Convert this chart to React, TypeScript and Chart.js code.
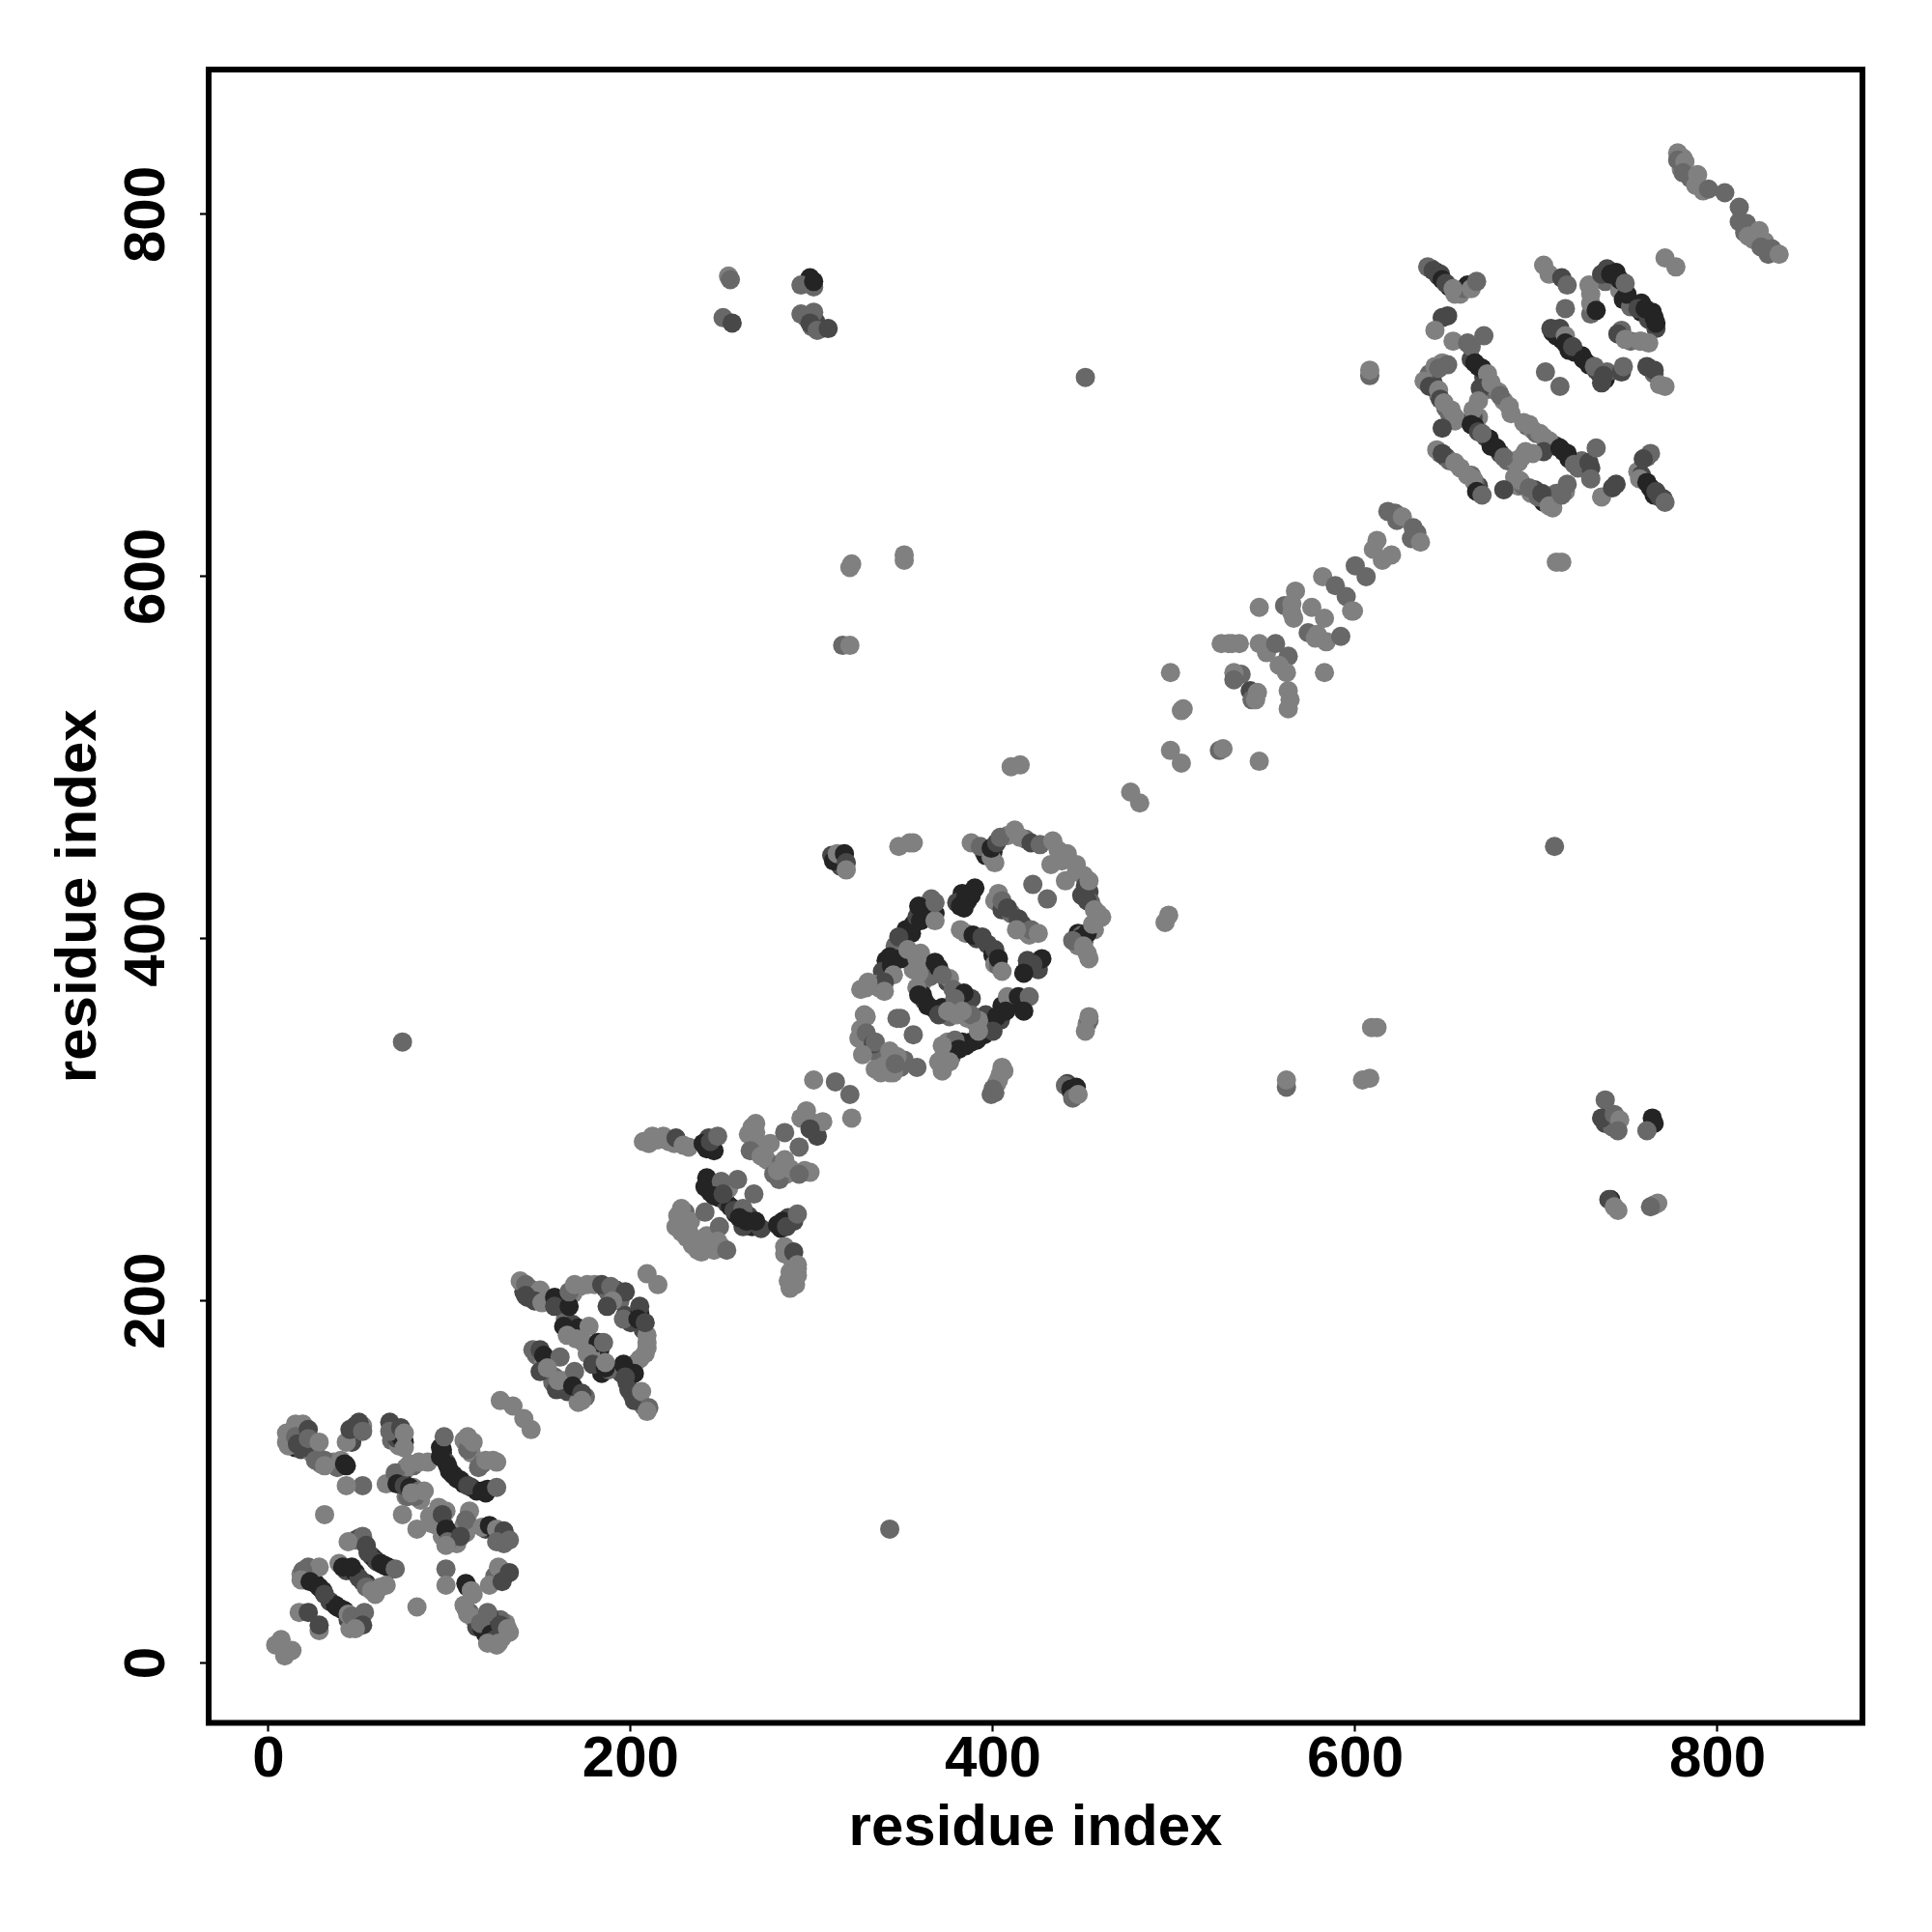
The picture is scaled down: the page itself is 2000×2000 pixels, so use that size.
import React, { useEffect, useRef } from "react";
import { Chart, registerables } from "chart.js";

Chart.register(...registerables);

type Contact = [number, number, number];

const xTickValues = [0, 200, 400, 600, 800];
const yTickValues = [0, 200, 400, 600, 800];
const axisLimits = [-33, 880];
const axisTitle = "residue index";
const scoreColors = ["#808080", "#808080", "#686868", "#484848", "#242424"];

const denseA: Contact[] = [
  [48,68,2],[50,69,3],[57,59,3],[59,57,4],[60,56,3],[64,54,4],[68,52,4],[43,51,3],[48,50,4],[50,47,3],[54,44,4],[56,42,3],[59,38,1],[62,42,1],
  [22,47,3],[26,44,4],[30,40,4],[34,34,3],[37,32,4],[40,30,3],[44,24,3],[47,21,2],[50,23,2],[45,19,1],[20,46,1],[18,49,1],[22,53,2],[24,52,2],[50,25,1],
  [11,125,2],[13,122,3],[15,119,4],[18,118,3],[20,125,3],[24,116,1],[27,114,2],[29,110,1],[36,111,1],[38,108,2],[43,109,4],[46,122,3],[47,126,3],[52,131,1],[48,131,3],
  [68,123,2],[70,130,1],[72,120,1],[71,124,3],[73,125,4],[68,100,3],[73,102,1],[75,106,1],[74,100,4],[76,92,1],[77,92,2],[80,97,1],[84,90,1],[80,109,2],[76,108,1],
  [96,118,4],[96,116,4],[98,111,3],[100,106,4],[102,104,4],[104,102,4],[108,99,4],[112,97,3],[115,95,4],[120,94,4],[112,116,1],[108,123,1],[116,108,2],[124,112,1],
  [108,76,2],[107,74,1],[109,72,1],[110,78,1],[98,84,1],[95,78,4],[97,76,3],[99,72,4],[100,68,1],[96,70,1],[90,77,1],[92,80,1],[103,68,3],[104,66,1],[120,74,3],[124,74,4],[128,69,3],[131,70,3],[130,66,2],
  [109,30,1],[111,28,2],[113,25,1],[115,20,3],[118,19,4],[120,16,4],[123,12,1],[125,18,4],[126,10,1],[129,14,1],[127,16,4],[130,20,2],[131,22,1],[128,24,2],[122,26,3],[110,42,4],[113,38,1],[125,48,2],[130,48,3],[127,53,1],
];

const denseB: Contact[] = [
  [141,205,3],[143,202,3],[145,204,4],[148,203,3],[153,201,1],[160,199,3],[162,197,4],[163,200,1],[168,204,1],[172,208,1],[180,209,1],[186,207,3],[188,204,2],[192,206,3],[194,200,2],[197,192,3],[200,188,3],[205,193,4],[207,184,3],[209,181,1],[209,174,1],[205,168,1],[199,163,4],[195,160,3],[198,155,3],[201,148,3],[204,146,2],[207,142,2],
  [164,190,2],[167,183,1],[168,187,3],[172,181,1],[174,177,1],[179,175,1],[183,173,4],[181,166,4],[178,170,1],[184,160,4],[188,162,2],
  [148,170,2],[152,166,1],[155,160,1],[158,158,2],[157,155,2],[163,156,1],[165,150,3],[170,150,3],[175,147,2],[171,144,1],
];

const denseC: Contact[] = [
  [265,292,1],[267,296,1],[269,293,1],[270,285,1],[274,284,1],[275,278,1],[279,274,1],[283,276,2],[279,270,2],[286,270,1],[290,271,1],[296,272,1],[300,296,1],[302,298,1],[303,291,3],[296,302,1],[210,287,1],[215,289,1],[224,287,1],[232,285,1],[243,290,3],[241,286,4],[246,283,4],
  [243,265,4],[244,260,4],[247,263,3],[249,257,4],[253,254,3],[255,252,4],[258,248,4],[265,247,3],[267,241,4],[262,241,3],[272,240,3],[281,242,4],[283,240,4],[287,246,3],[290,244,3],[254,262,1],
  [226,247,1],[228,246,1],[230,241,1],[232,238,1],[234,235,1],[236,233,1],[240,229,1],[242,236,1],[244,232,1],[246,228,1],[250,230,1],[230,249,2],[285,226,1],[289,223,1],[291,217,1],[292,214,1],[287,211,1],[291,209,1],
];

const denseD: Contact[] = [
  [350,400,4],[352,405,4],[356,408,4],[358,412,3],[363,418,3],[365,415,4],[366,422,2],[346,393,3],[346,396,2],[341,388,4],[339,382,3],[338,376,3],[337,373,1],[334,375,1],[330,373,1],
  [383,425,4],[386,421,4],[388,424,4],[380,420,3],[384,417,4],[401,421,1],[405,416,3],[410,414,2],[414,411,3],[418,404,2],[420,402,1],[385,403,1],[391,400,3],[397,397,3],[400,391,4],[401,386,1],[403,385,2],[419,384,4],[424,387,4],[419,388,3],[425,383,3],
  [410,365,4],[405,363,4],[404,355,3],[398,352,4],[395,347,4],[388,343,4],[383,343,4],[377,335,2],[375,343,1],[370,332,1],[373,336,1],[378,341,3],[390,354,1],[396,358,3],
  [360,392,1],[362,385,1],[361,376,1],[356,383,1],[365,379,2],[368,387,4],[375,376,3],[376,378,1],[381,367,4],[388,367,3],[362,366,3],[364,363,4],[372,362,4],[376,357,2],[380,358,1],[386,356,1],
  [327,350,1],[331,345,1],[332,340,2],[336,337,1],[338,333,2],[342,331,1],[338,326,1],[343,326,1],[349,329,2],[351,333,2],[330,338,2],[329,344,2],
  [395,448,2],[396,446,4],[400,448,4],[401,442,1],[408,457,1],[418,455,2],[436,449,1],[438,443,1],[446,437,1],[450,435,1],[453,426,3],[449,424,3],[454,420,2],[458,414,1],[450,398,4],[447,403,4],[447,396,1],[452,392,1],[449,402,2],[456,405,1],
  [443,316,4],[445,315,3],[441,320,3],[406,327,1],[403,322,1],[402,320,1],[401,315,2],[452,353,1],[453,355,2],[311,446,3],[315,442,4],[317,445,4],[316,440,3],
];

const denseF: Contact[] = [
  [297,743,2],[300,738,2],[305,737,4],[299,765,4],[301,760,2],[302,741,3],[740,300,3],[738,298,3],[742,296,2],[765,298,4],[741,256,4],[745,250,1],[765,253,1],
  [642,770,3],[645,768,4],[647,767,3],[652,760,4],[655,756,1],[658,756,1],[660,759,2],[662,761,4],
  [641,712,2],[640,710,2],[643,707,3],[646,700,1],[650,693,2],[652,690,2],[655,686,1],[644,716,1],[648,718,1],
  [664,720,3],[668,716,4],[671,710,3],[672,703,1],[677,703,2],[679,702,1],[682,697,1],[686,690,1],[668,688,1],[665,688,3],[666,683,4],[672,677,3],[674,676,4],[675,672,4],[680,668,3],[684,664,2],[688,664,1],
  [695,683,2],[698,681,1],[704,677,1],[709,673,3],[711,672,4],[715,669,4],[718,665,4],[723,660,2],[725,664,2],[730,660,3],[700,679,2],
  [688,655,1],[690,650,1],[693,650,2],[697,646,1],[699,648,3],[705,643,1],[704,641,4],[709,638,1],[711,646,2],[716,647,1],[694,669,1],[690,663,1],
  [647,668,2],[650,666,3],[652,664,2],[658,660,1],[664,656,2],[668,650,3],[666,652,2],
  [761,666,2],[756,658,1],[758,656,3],[763,649,4],[765,645,4],[770,643,3],
  [738,763,2],[739,770,3],[744,768,4],[747,759,4],[746,758,1],[748,753,4],[752,749,2],[758,746,4],[762,742,3],[765,743,4],[758,751,4],[730,745,2],[731,748,2],[730,751,1],
  [709,735,4],[711,733,4],[714,731,4],[718,725,4],[721,724,4],[725,722,4],[729,717,4],[735,712,4],[738,709,4],[736,707,3],[733,714,3],[739,713,2],[747,713,3],[747,736,2],[752,730,2],[758,730,1],[765,712,2],
  [780,825,1],[785,820,2],[792,813,1],[815,790,2],[820,786,1],[826,785,1],[828,778,2],[781,831,1],
];

const blockA: Contact[] = [
  [10,127,1],[10,122,1],[11,120,1],[15,132,1],[19,132,1],[15,125,2],[16,121,3],[20,119,3],[22,129,3],[22,124,2],[28,122,1],[26,112,2],[31,112,2],[31,109,1],[40,112,1],[42,110,4],[43,122,1],[45,129,3],[50,133,3],[52,128,2],[52,98,2],[43,98,1],[31,82,1],
  [67,133,3],[67,128,2],[73,130,3],[75,122,4],[75,127,1],[75,119,1],[65,99,1],[70,105,2],[71,99,4],[75,98,3],[78,97,4],[83,95,2],[81,92,2],[79,94,1],[86,95,1],[78,110,1],[83,111,1],[88,111,1],[74,82,1],[82,74,1],
  [95,119,4],[95,114,4],[99,109,4],[97,125,2],[106,101,4],[110,98,3],[118,95,4],[121,96,4],[126,97,2],[110,118,2],[113,122,1],[110,125,1],[118,110,2],[120,112,1],[126,111,1],[111,84,1],[109,79,2],
  [89,81,1],[93,76,1],[94,86,1],[96,82,3],[98,74,4],[101,70,4],[99,67,2],[106,70,3],[98,65,1],[118,75,1],[122,76,4],[126,74,1],[130,73,3],[126,67,2],[133,68,2],
  [52,70,2],[44,67,1],[54,65,3],[55,61,3],[62,55,4],[66,53,4],[70,52,2],[39,55,1],[41,53,4],[46,53,4],[52,45,3],[54,42,2],[57,40,1],[65,43,1],
  [28,53,1],[19,51,2],[18,46,1],[23,45,4],[28,42,4],[31,38,3],[38,31,4],[42,29,4],[44,27,1],[46,26,2],[53,28,2],[52,21,3],[48,19,1],[17,28,1],[22,28,3],[28,18,1],[28,21,3],[82,31,1],
  [98,52,2],[98,43,1],[109,44,4],[112,40,1],[122,43,1],[128,52,1],[129,45,3],[133,50,3],[108,32,1],[110,27,1],[121,28,2],[117,22,2],[123,16,4],[125,13,3],[128,21,3],[121,11,1],[127,11,1],[132,19,1],[133,17,1],
  [4,10,1],[7,13,1],[9,4,1],[13,7,1],
];

const blockB: Contact[] = [
  [128,145,1],[135,142,1],[141,135,1],[145,129,1],
  [139,211,1],[142,209,2],[144,207,2],[150,206,1],[142,203,3],[147,200,3],[151,199,1],[158,202,4],[158,197,3],[166,197,4],[166,205,2],[169,209,1],[176,209,1],[184,209,3],[189,208,2],[197,205,3],[190,200,1],[187,197,3],[196,190,2],[205,197,3],[204,190,4],[208,188,3],[209,177,1],[208,171,1],[202,165,1],[202,160,4],[196,165,4],[197,158,3],
  [163,186,4],[171,185,4],[165,181,1],[177,186,1],[170,179,1],[182,177,4],[185,177,2],[176,171,1],[179,165,3],[186,163,4],[186,166,1],
  [146,173,2],[150,173,3],[152,170,4],[161,169,2],[150,161,3],[154,163,1],[169,161,2],[159,151,3],[160,156,1],[168,153,4],[173,149,3],[173,145,1],[199,151,3],[202,145,3],[206,150,1],[210,141,2],[209,139,1],[209,215,1],[215,209,1],
];

const blockC: Contact[] = [
  [207,288,1],[212,291,1],[218,291,1],[221,288,1],[225,290,3],[229,286,1],[240,287,4],[242,284,4],[244,288,3],[248,291,2],
  [269,298,1],[268,288,1],[266,283,2],[277,287,1],[272,280,1],[285,293,2],[293,285,2],[297,305,1],[294,301,1],[306,299,1],[299,295,3],[285,278,1],[282,267,2],[281,272,1],[288,273,1],[299,271,1],[293,270,2],
  [301,322,1],[313,321,2],[321,314,2],[322,301,1],
  [242,268,4],[241,263,4],[250,266,2],[259,267,2],[246,258,4],[251,259,3],[268,259,2],[257,250,3],[262,251,2],[264,244,4],[269,244,4],[260,246,4],[284,244,4],[286,241,3],[292,248,2],
  [228,251,1],[227,244,1],[225,241,1],[233,244,1],[241,249,2],[249,241,2],[231,235,1],[228,238,1],[239,234,1],[239,227,1],[248,233,1],[253,228,2],[234,231,1],[237,228,1],
  [285,230,1],[290,227,3],[292,220,1],[288,216,1],[290,212,1],[288,207,1],[292,218,1],
];

const blockD: Contact[] = [
  [312,443,4],[314,447,1],[318,447,4],[319,442,3],[319,438,1],[348,451,1],[354,453,1],[356,453,1],
  [388,453,1],[393,451,2],[399,445,1],[399,450,4],[402,453,3],[404,456,2],[412,460,1],[415,456,1],[421,453,3],[426,452,2],[433,454,1],[432,441,1],[441,447,1],[446,441,1],[440,432,1],[451,429,3],[453,432,1],[452,421,3],[456,416,1],[460,412,1],[452,403,4],[448,400,4],[444,399,2],[455,408,1],[450,396,1],[453,389,1],
  [422,430,2],[430,422,2],[403,425,1],[405,421,2],[408,417,3],[416,408,3],[421,405,2],[413,405,1],[425,403,1],
  [390,428,4],[385,423,4],[382,418,4],[382,405,1],[389,402,4],[394,401,3],[401,394,3],[403,389,4],[405,382,1],[427,389,4],[422,386,3],[417,381,4],
  [408,368,1],[414,368,4],[420,368,2],[417,360,4],[407,360,4],[402,357,4],[400,349,3],[392,355,1],[388,358,2],[391,344,4],[385,341,4],[392,349,1],[379,344,2],[376,339,2],[381,339,4],[372,341,1],[372,327,1],[376,332,1],
  [359,418,4],[360,410,4],[368,414,4],[368,410,1],[368,420,2],[355,403,4],[348,401,3],[349,389,4],[343,390,4],[344,385,4],[345,380,1],[340,376,3],[353,394,1],[358,389,1],[359,381,1],[331,376,1],[327,372,1],[340,371,1],
  [370,384,4],[372,380,2],[378,372,2],[384,370,4],[379,367,2],[361,369,4],[358,373,1],[359,369,4],[368,361,4],[370,358,3],[375,360,1],[383,360,1],
  [329,358,1],[330,357,1],[347,356,2],[349,356,2],[356,347,2],
  [326,345,1],[330,348,2],[334,342,3],[335,343,2],[328,336,1],[343,338,1],[335,328,1],[340,330,1],[347,335,1],[345,326,1],[346,331,2],[358,329,2],
  [453,357,1],[451,349,1],[405,329,1],[404,325,1],[400,317,2],[399,314,2],[440,319,2],[443,317,4],[446,318,4],[444,312,2],[447,314,1],
];

const blockE: Contact[] = [
  [74,343,2],[343,74,2],[451,710,2],[710,451,2],[410,495,1],[415,496,1],[321,605,1],[322,607,1],[351,609,1],[351,612,1],[317,562,2],[321,562,1],[609,351,1],[612,351,1],[562,318,2],[562,322,1],[604,322,1],[608,323,1],[711,608,1],[714,608,1],[608,711,2],[608,714,1],
  [476,481,1],[481,475,1],[495,409,1],[497,413,1],[498,547,1],[498,504,1],[504,497,1],[547,583,1],[547,498,1],[504,526,1],[505,527,1],[525,504,2],[527,505,1],
  [532,563,1],[526,563,1],[530,563,1],[536,563,1],[547,563,1],[551,558,1],[556,563,2],[563,556,2],[558,551,1],[562,547,1],[537,546,2],[533,547,1],[533,543,2],[542,537,3],[543,532,2],[546,536,1],[545,532,1],[563,537,1],[564,532,1],[563,527,1],[583,547,1],[567,592,1],[561,584,2],[565,585,1],[566,577,1],[565,580,1],[576,583,1],[583,577,1],[574,569,2],[578,566,1],[584,564,1],[579,568,1],[592,567,2],[582,600,1],[589,595,2],[595,589,2],[599,581,1],[598,581,1],[600,606,2],[606,600,2],[612,620,1],[610,615,1],[620,612,1],[615,609,1],[618,636,2],[622,635,2],[623,631,2],[626,633,1],[632,627,2],[634,624,2],[631,621,2],[636,619,1],
  [254,766,1],[255,764,2],[251,743,2],[256,740,3],[294,761,2],[301,763,4],[294,745,2],[301,746,2],[299,740,3],[303,736,2],[309,737,3],
  [738,311,2],[736,301,3],[743,303,2],[746,300,1],[745,294,2],[764,301,4],[761,294,2],[740,256,3],[743,252,1],[767,254,1],[763,252,2],
];

const blockF: Contact[] = [
  [640,771,2],[643,769,3],[646,766,3],[648,764,4],[650,762,3],[654,759,1],[664,759,1],[667,763,2],[651,744,3],[648,743,3],[644,736,1],[654,730,1],[662,729,2],[664,727,2],[671,733,2],
  [651,717,2],[646,715,2],[638,708,1],[641,705,3],[646,703,1],[647,698,3],[649,696,1],[653,692,1],[655,688,1],[648,682,3],
  [666,718,4],[670,715,4],[673,712,1],[669,704,3],[675,707,1],[680,700,2],[685,694,1],[668,697,1],[665,692,1],[664,684,4],[668,680,3],[670,679,2],
  [693,685,1],[696,684,1],[702,679,1],[707,675,1],[704,669,3],[713,671,4],[717,668,4],[721,662,2],[729,663,3],[733,671,2],[730,654,2],
  [678,671,4],[682,666,2],[692,666,1],[698,668,1],[691,653,1],[696,649,2],[701,644,2],[703,646,3],[707,639,1],[717,651,2],[714,645,2],[682,648,3],
  [645,670,1],[648,668,3],[655,663,1],[662,656,1],[665,654,1],[667,647,4],[670,645,2],[736,644,1],[742,649,3],[744,651,3],
  [763,668,2],[759,665,3],[757,654,1],[761,652,4],[766,647,3],[768,644,3],[771,641,2],
  [704,772,1],[707,767,1],[714,765,3],[717,761,2],[716,748,2],[729,761,1],[730,756,1],[733,747,4],
  [736,767,3],[741,767,4],[746,764,4],[750,756,4],[749,762,2],[756,748,3],[760,748,4],[764,746,4],[766,737,3],[766,740,4],
  [745,734,3],[749,731,1],[757,730,1],[762,729,1],[708,737,3],[713,737,3],[716,733,1],[716,729,4],[720,727,3],[726,720,4],[732,716,2],[737,711,3],[748,716,2],[761,716,3],[765,714,3],[768,706,1],[771,705,1],[705,713,2],[713,705,2],[771,776,1],[777,771,1],
  [778,834,1],[778,830,2],[782,829,1],[781,823,2],[789,822,1],[788,816,1],[795,814,2],[804,812,2],[812,804,2],[812,796,2],[816,795,2],[823,791,1],[817,788,1],[824,782,2],[830,781,2],[834,778,1],
];

const allContacts = [...denseA, ...denseB, ...denseC, ...denseD, ...denseF, ...blockA, ...blockB, ...blockC, ...blockD, ...blockE, ...blockF];

const framePlugin = {
  id: "frame",
  afterDatasetsDraw(chart: any) {
    const { ctx, chartArea: a } = chart;
    ctx.save();
    ctx.strokeStyle = "#000";
    ctx.lineWidth = 6;
    ctx.strokeRect(a.left, a.top, a.right - a.left, a.bottom - a.top);
    ctx.restore();
  },
};

const font = { family: "'Liberation Sans', Arial, sans-serif", weight: "bold" as const, size: 60, lineHeight: 1 };

export default function App() {
  const ref = useRef<HTMLCanvasElement>(null);
  useEffect(() => {
    if (!ref.current) return;
    const chart = new Chart(ref.current, {
      type: "scatter",
      data: {
        datasets: [
          {
            label: "contacts",
            data: allContacts.map(([x, y]) => ({ x, y })),
            pointRadius: 10,
            pointBorderWidth: 0,
            pointBackgroundColor: allContacts.map((c) => scoreColors[c[2]]),
          },
        ],
      },
      plugins: [framePlugin],
      options: {
        animation: false,
        responsive: false,
        devicePixelRatio: 1,
        layout: { padding: { top: 72, right: 72, left: 0, bottom: 0 } },
        plugins: { legend: { display: false }, tooltip: { enabled: false } },
        scales: {
          x: {
            type: "linear",
            min: axisLimits[0],
            max: axisLimits[1],
            afterBuildTicks: (s: any) => { s.ticks = xTickValues.map((value) => ({ value })); },
            afterFit: (s: any) => { s.height = 216.5; },
            border: { display: false },
            grid: { drawOnChartArea: false, drawTicks: true, tickLength: 9, tickWidth: 2.2, tickColor: "#000" },
            ticks: { color: "#000", font, padding: 0, maxRotation: 0, autoSkip: false },
            title: { display: true, text: axisTitle, color: "#000", font, padding: { top: 0, bottom: 77 } },
          },
          y: {
            type: "linear",
            min: axisLimits[0],
            max: axisLimits[1],
            afterBuildTicks: (s: any) => { s.ticks = yTickValues.map((value) => ({ value })); },
            afterFit: (s: any) => { s.width = 216; },
            border: { display: false },
            grid: { drawOnChartArea: false, drawTicks: true, tickLength: 9, tickWidth: 2.2, tickColor: "#000" },
            ticks: { color: "#000", font, padding: 3, minRotation: 90, maxRotation: 90, crossAlign: "center", autoSkip: false },
            title: { display: true, text: axisTitle, color: "#000", font, padding: { top: 52, bottom: 0 } },
          },
        },
      },
    } as any);
    return () => chart.destroy();
  }, []);
  return <canvas ref={ref} width={2000} height={2000} style={{ position: "absolute", left: 0, top: 0, width: 2000, height: 2000 }} />;
}
